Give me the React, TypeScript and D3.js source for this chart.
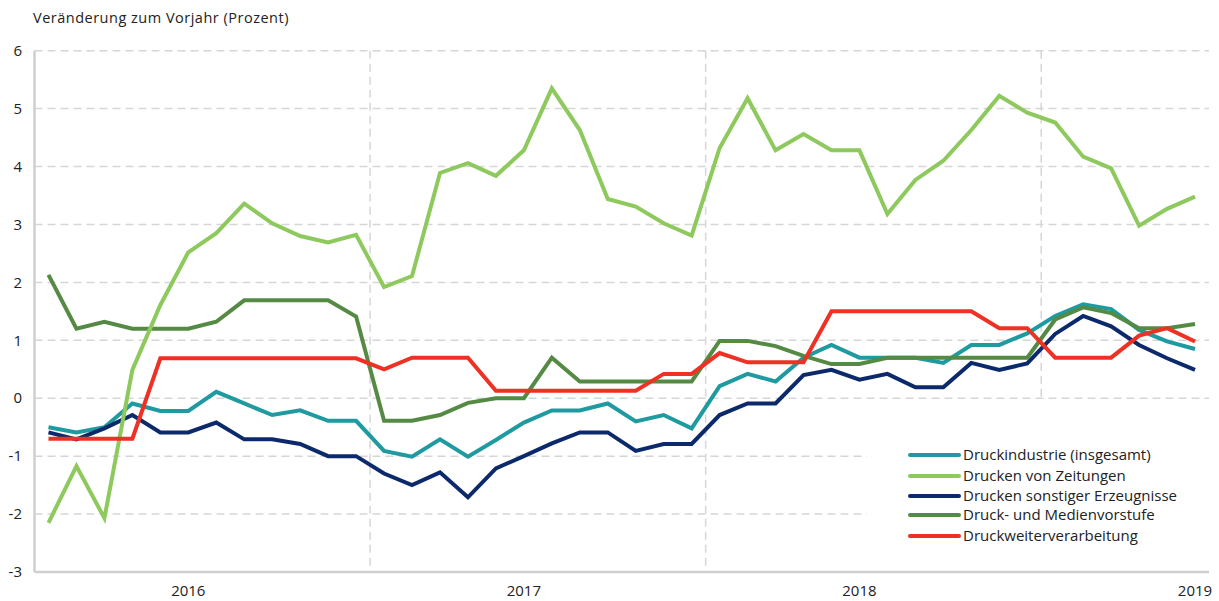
import React from "react";
import * as d3 from "d3";

const months: string[] = [];
for (let y = 2016; y <= 2019; y++) {
  for (let m = 1; m <= 12; m++) {
    if (y === 2019 && m > 6) break;
    months.push(`${y}-${String(m).padStart(2, "0")}`);
  }
}

const yearTicks = ["2016-06", "2017-06", "2018-06", "2019-06"];
const yearLabels = ["2016", "2017", "2018", "2019"];
const yearBoundaries = ["2016-12", "2017-12", "2018-12"];
const yTicks = [-3, -2, -1, 0, 1, 2, 3, 4, 5, 6];

const druckindustrie = [
  -0.5, -0.59, -0.5, -0.09, -0.22, -0.22, 0.11, -0.09, -0.29, -0.21, -0.39, -0.39,
  -0.91, -1.01, -0.71, -1.01, -0.72, -0.42, -0.21, -0.21, -0.09, -0.4, -0.29, -0.52,
  0.21, 0.42, 0.29, 0.7, 0.92, 0.7, 0.7, 0.7, 0.61, 0.92, 0.92, 1.12,
  1.42, 1.62, 1.54, 1.18, 0.98, 0.85,
];
const zeitungen = [
  -2.15, -1.17, -2.07, 0.49, 1.61, 2.52, 2.85, 3.36, 3.02, 2.8, 2.69, 2.82,
  1.92, 2.11, 3.89, 4.06, 3.84, 4.28, 5.35, 4.63, 3.44, 3.31, 3.02, 2.81,
  4.32, 5.18, 4.28, 4.56, 4.28, 4.28, 3.18, 3.77, 4.1, 4.63, 5.22, 4.93,
  4.76, 4.17, 3.97, 2.98, 3.27, 3.48,
];
const sonstige = [
  -0.59, -0.71, -0.52, -0.29, -0.59, -0.59, -0.42, -0.71, -0.71, -0.79, -1.0, -1.0,
  -1.3, -1.5, -1.28, -1.71, -1.21, -1.0, -0.78, -0.59, -0.59, -0.91, -0.79, -0.79,
  -0.29, -0.09, -0.09, 0.4, 0.49, 0.32, 0.42, 0.19, 0.19, 0.61, 0.49, 0.6,
  1.11, 1.42, 1.24, 0.92, 0.69, 0.49,
];
const vorstufe = [
  2.13, 1.2, 1.32, 1.2, 1.2, 1.2, 1.32, 1.69, 1.69, 1.69, 1.69, 1.41,
  -0.39, -0.39, -0.29, -0.08, 0.0, 0.0, 0.7, 0.29, 0.29, 0.29, 0.29, 0.29,
  0.99, 0.99, 0.9, 0.73, 0.59, 0.59, 0.7, 0.7, 0.7, 0.7, 0.7, 0.7,
  1.36, 1.57, 1.47, 1.21, 1.21, 1.28,
];
const weiterverarbeitung = [
  -0.7, -0.7, -0.7, -0.7, 0.69, 0.69, 0.69, 0.69, 0.69, 0.69, 0.69, 0.69,
  0.5, 0.7, 0.7, 0.7, 0.13, 0.13, 0.13, 0.13, 0.13, 0.13, 0.42, 0.42,
  0.78, 0.62, 0.62, 0.62, 1.5, 1.5, 1.5, 1.5, 1.5, 1.5, 1.21, 1.21,
  0.7, 0.7, 0.7, 1.08, 1.21, 0.98,
];

const seriesNames = [
  "Druckindustrie (insgesamt)",
  "Drucken von Zeitungen",
  "Drucken sonstiger Erzeugnisse",
  "Druck- und Medienvorstufe",
  "Druckweiterverarbeitung",
];
const seriesValues = [druckindustrie, zeitungen, sonstige, vorstufe, weiterverarbeitung];
const seriesColors = ["#1e9aa0", "#8dc95c", "#0c2a6b", "#558a44", "#ee3124"];
const drawOrder = [0, 2, 3, 1, 4];

const FONT = "'Open Sans', 'Noto Sans', sans-serif";

export default function App() {
  const W = 1219;
  const H = 601;
  const left = 34.5;
  const right = 1209;
  const top = 50.7;
  const bottom = 572;

  const x = d3.scaleBand<string>().domain(months).range([left, right]).padding(0);
  const cx = (m: string) => (x(m) as number) + x.bandwidth() / 2;
  const y = d3.scaleLinear().domain([-3, 6]).range([bottom, top]);

  const line = d3
    .line<number>()
    .x((_, i) => cx(months[i]))
    .y((d) => y(d));

  const legendX = 910;
  const legendRows = [455, 476, 496, 515, 536];

  return (
    <svg width={W} height={H} style={{ position: "absolute", left: 0, top: 0, background: "#fff" }}>
      <rect x={0} y={0} width={W} height={H} fill="#fff" />
      <text x={33} y={23} fontFamily={FONT} fontSize={14.5} letterSpacing={0.5} fill="#222">
        Veränderung zum Vorjahr (Prozent)
      </text>

      {yTicks.filter((t) => t > -3).map((t) => (
        <line key={t} x1={left} x2={right} y1={y(t)} y2={y(t)} stroke="#d6d6d6" strokeWidth={1.5} strokeDasharray="8,5" />
      ))}
      {yearBoundaries.map((m) => {
        const xv = (x(m) as number) + x.bandwidth();
        return <line key={m} x1={xv} x2={xv} y1={top} y2={bottom} stroke="#d6d6d6" strokeWidth={1.5} strokeDasharray="8,5" />;
      })}

      <rect x={867} y={400} width={right - 867} height={bottom - 401} fill="#fff" />

      <line x1={left} x2={left} y1={top} y2={bottom} stroke="#cfcfcf" strokeWidth={2.5} />
      <line x1={left} x2={right} y1={bottom} y2={bottom} stroke="#cfcfcf" strokeWidth={2.5} />

      {yTicks.map((t) => (
        <text key={t} x={22} y={y(t)} dy="0.35em" textAnchor="end" fontFamily={FONT} fontSize={15} fill="#222">
          {t}
        </text>
      ))}
      {yearTicks.map((m, i) => (
        <text key={m} x={cx(m)} y={591} dy="0.35em" textAnchor="middle" fontFamily={FONT} fontSize={15} fill="#222">
          {yearLabels[i]}
        </text>
      ))}

      {drawOrder.map((i) => (
        <path key={i} d={line(seriesValues[i]) || ""} fill="none" stroke={seriesColors[i]} strokeWidth={4} strokeLinejoin="miter" />
      ))}

      {seriesNames.map((name, i) => (
        <g key={name}>
          <line x1={legendX} x2={legendX + 49} y1={legendRows[i]} y2={legendRows[i]} stroke={seriesColors[i]} strokeWidth={4} strokeLinecap="round" />
          <text x={legendX + 53} y={legendRows[i]} dy="0.35em" fontFamily={FONT} fontSize={15} fill="#222">
            {name}
          </text>
        </g>
      ))}
    </svg>
  );
}
